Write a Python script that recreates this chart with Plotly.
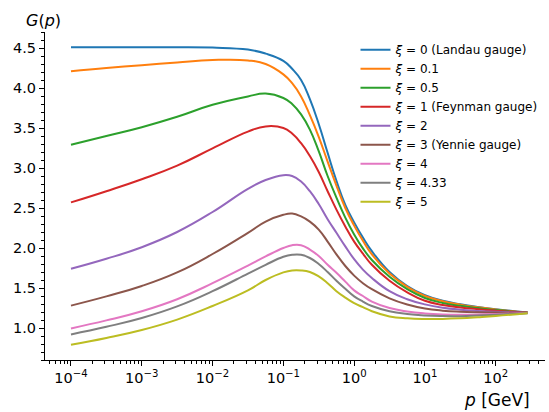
import plotly.graph_objects as go

# momentum p [GeV]
p = [1e-4, 3.16e-4, 1e-3, 3.16e-3, 1e-2, 3.16e-2, 5.62e-2, 0.1, 0.133, 0.178,
     0.237, 0.316, 0.422, 0.562, 0.750, 1.0, 1.33, 1.78, 3.16, 5.62,
     10.0, 17.8, 31.6, 56.2, 100.0, 282.0]

labels = ["<i>ξ</i> = 0 (Landau gauge)", "<i>ξ</i> = 0.1", "<i>ξ</i> = 0.5",
          "<i>ξ</i> = 1 (Feynman gauge)", "<i>ξ</i> = 2", "<i>ξ</i> = 3 (Yennie gauge)",
          "<i>ξ</i> = 4", "<i>ξ</i> = 4.33", "<i>ξ</i> = 5"]

g_xi0   = [4.51, 4.51, 4.51, 4.51, 4.505, 4.48, 4.43, 4.34, 4.24, 4.10, 3.86, 3.55, 3.19,
           2.84, 2.54, 2.32, 2.13, 1.96, 1.70, 1.525, 1.41, 1.34, 1.297, 1.263, 1.235, 1.195]
g_xi01  = [4.21, 4.25, 4.285, 4.32, 4.35, 4.345, 4.30, 4.17, 4.06, 3.895, 3.66, 3.39, 3.08,
           2.78, 2.50, 2.28, 2.09, 1.92, 1.68, 1.515, 1.40, 1.335, 1.292, 1.259, 1.232, 1.193]
g_xi05  = [3.29, 3.40, 3.51, 3.64, 3.79, 3.895, 3.93, 3.875, 3.80, 3.67, 3.48, 3.21, 2.90,
           2.63, 2.38, 2.17, 1.995, 1.85, 1.64, 1.485, 1.375, 1.313, 1.277, 1.249, 1.225, 1.19]
g_xi1   = [2.57, 2.71, 2.86, 3.03, 3.245, 3.455, 3.52, 3.50, 3.43, 3.31, 3.15, 2.95, 2.71,
           2.48, 2.27, 2.08, 1.93, 1.79, 1.59, 1.445, 1.34, 1.288, 1.257, 1.235, 1.217, 1.19]
g_xi2   = [1.74, 1.865, 2.01, 2.20, 2.45, 2.74, 2.85, 2.91, 2.90, 2.83, 2.71, 2.55, 2.36,
           2.19, 2.02, 1.86, 1.73, 1.625, 1.46, 1.36, 1.295, 1.253, 1.229, 1.214, 1.203, 1.19]
g_xi3   = [1.28, 1.395, 1.525, 1.695, 1.925, 2.19, 2.33, 2.415, 2.43, 2.395, 2.33, 2.23, 2.08,
           1.92, 1.775, 1.655, 1.56, 1.485, 1.37, 1.293, 1.243, 1.217, 1.204, 1.197, 1.193, 1.19]
g_xi4   = [0.995, 1.095, 1.21, 1.36, 1.56, 1.78, 1.895, 2.00, 2.035, 2.035, 1.98, 1.90, 1.79,
           1.69, 1.58, 1.47, 1.40, 1.33, 1.25, 1.207, 1.182, 1.169, 1.165, 1.168, 1.174, 1.187]
g_xi433 = [0.92, 1.015, 1.125, 1.27, 1.46, 1.68, 1.79, 1.89, 1.915, 1.915, 1.875, 1.80, 1.70,
           1.59, 1.49, 1.395, 1.33, 1.275, 1.21, 1.176, 1.157, 1.149, 1.148, 1.155, 1.165, 1.185]
g_xi5   = [0.79, 0.875, 0.975, 1.105, 1.275, 1.47, 1.60, 1.695, 1.72, 1.72, 1.70, 1.645, 1.56,
           1.46, 1.38, 1.31, 1.26, 1.21, 1.145, 1.121, 1.113, 1.114, 1.122, 1.135, 1.15, 1.183]

series = [g_xi0, g_xi01, g_xi05, g_xi1, g_xi2, g_xi3, g_xi4, g_xi433, g_xi5]
colors = ["#1f77b4", "#ff7f0e", "#2ca02c", "#d62728", "#9467bd",
          "#8c564b", "#e377c2", "#7f7f7f", "#bcbd22"]

x_tickvals = [1e-4, 1e-3, 1e-2, 1e-1, 1, 10, 100]
x_ticktext = ["10<sup>−4</sup>", "10<sup>−3</sup>", "10<sup>−2</sup>", "10<sup>−1</sup>",
              "10<sup>0</sup>", "10<sup>1</sup>", "10<sup>2</sup>"]
x_minor = [k * 10.0 ** n for n in range(-5, 3) for k in range(2, 10)]

fig = go.Figure()
for y, c, name in zip(series, colors, labels):
    fig.add_trace(go.Scatter(x=p, y=y, mode="lines", name=name,
                             line=dict(color=c, width=2, shape="spline", smoothing=1.3)))

FONT = "DejaVu Sans"
fig.update_layout(
    width=549, height=412,
    margin=dict(l=45, r=4, t=32, b=52),
    paper_bgcolor="white", plot_bgcolor="white",
    font=dict(family=FONT, size=14.5, color="black"),
    showlegend=True,
    legend=dict(x=0.621, y=0.99, xanchor="left", yanchor="top",
                font=dict(family=FONT, size=12, color="black"),
                bgcolor="rgba(0,0,0,0)", tracegroupgap=0, itemwidth=30),
)
fig.update_xaxes(
    type="log", range=[-4.367, 2.696],
    tickmode="array", tickvals=x_tickvals, ticktext=x_ticktext,
    ticks="outside", ticklen=5, tickwidth=1, tickcolor="black",
    showline=True, linecolor="black", linewidth=1, mirror=False,
    showgrid=False, zeroline=False,
    minor=dict(tickmode="array", tickvals=x_minor, ticks="outside", ticklen=3,
               tickwidth=0.8, tickcolor="black", showgrid=False),
    tickfont=dict(family=FONT, size=14.5, color="black"),
)
fig.update_yaxes(
    range=[0.6, 4.7], tickmode="linear", tick0=0, dtick=0.5, tickformat=".1f",
    ticks="outside", ticklen=5, tickwidth=1, tickcolor="black",
    showline=True, linecolor="black", linewidth=1, mirror=False,
    showgrid=False, zeroline=False,
    minor=dict(dtick=0.1, ticks="outside", ticklen=3, tickwidth=0.8,
               tickcolor="black", showgrid=False),
    tickfont=dict(family=FONT, size=14.5, color="black"),
)
fig.add_annotation(text="<i>G</i>(<i>p</i>)", xref="paper", yref="paper",
                   x=-0.004, y=1.0, xanchor="center", yanchor="bottom",
                   showarrow=False, font=dict(family=FONT, size=16, color="black"))
fig.add_annotation(text="<i>p</i> [GeV]", xref="paper", yref="paper",
                   x=0.974, y=-0.085, xanchor="right", yanchor="top",
                   showarrow=False, font=dict(family=FONT, size=17, color="black"))

fig.write_html("out.html")
